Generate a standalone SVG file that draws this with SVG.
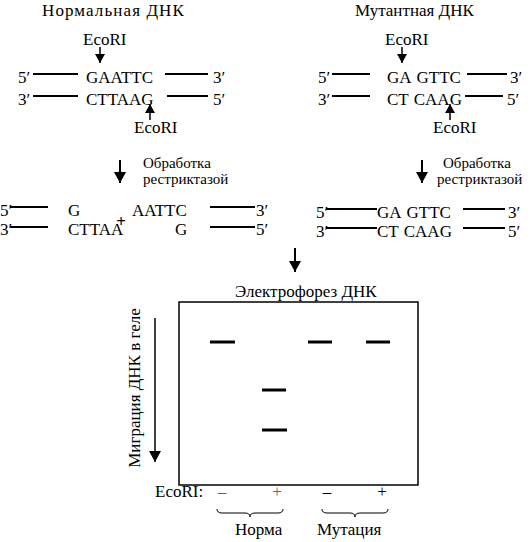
<svg xmlns="http://www.w3.org/2000/svg" width="531" height="542" viewBox="0 0 531 542" font-family="'Liberation Serif','Times New Roman',serif">
<style>
text{font-family:"Liberation Serif","Times New Roman",serif;font-size:17px;fill:#000}
.t{font-size:15px}
.s{stroke:#000;stroke-width:2;fill:none}
.a{stroke:#000;stroke-width:1.5;fill:none}
.b{stroke:#000;stroke-width:3}
.g{fill:#666}
</style>
<defs>
<marker id="ah" markerUnits="userSpaceOnUse" markerWidth="10" markerHeight="10" refX="9" refY="5" orient="auto"><path d="M0,0 L9,5 L0,10 z" fill="#000"/></marker>
<marker id="ahL" markerUnits="userSpaceOnUse" markerWidth="12" markerHeight="12" refX="11" refY="6" orient="auto"><path d="M0,0 L11,6 L0,12 z" fill="#000"/></marker>
</defs>
<rect width="531" height="542" fill="#fff"/>

<g id="normal-dna">
<text x="42" y="16" letter-spacing="1.1">Нормальная ДНК</text>
<text x="83" y="45">EcoRI</text>
<text x="18" y="83">5′</text>
<line class="s" x1="33" y1="74" x2="78" y2="74"/>
<text x="86" y="83">GAATTC</text>
<line class="s" x1="165" y1="74" x2="208" y2="74"/>
<text x="213" y="83">3′</text>
<text x="18" y="105">3′</text>
<line class="s" x1="33" y1="96" x2="78" y2="96"/>
<text x="86" y="105">CTTAAG</text>
<line class="s" x1="167" y1="96" x2="208" y2="96"/>
<text x="213" y="105">5′</text>
<text x="134" y="133">EcoRI</text>
</g>

<g id="mutant-dna">
<text x="355" y="16">Мутантная ДНК</text>
<text x="385" y="45">EcoRI</text>
<text x="318" y="83">5′</text>
<line class="s" x1="332" y1="74" x2="370" y2="74"/>
<text x="387" y="83">GA<tspan dx="5">GTTC</tspan></text>
<line class="s" x1="467" y1="74" x2="507" y2="74"/>
<text x="510" y="83">3′</text>
<text x="318" y="105">3′</text>
<line class="s" x1="332" y1="96" x2="370" y2="96"/>
<text x="387" y="105">CT<tspan dx="5">CAAG</tspan></text>
<line class="s" x1="465" y1="96" x2="503" y2="96"/>
<text x="507" y="105">5′</text>
<text x="433" y="133">EcoRI</text>
</g>

<g id="normal-cut">
<text class="t" x="143" y="168">Обработка</text>
<text class="t" x="143" y="184">рестриктазой</text>
<text x="0" y="216">5′</text>
<line class="s" x1="10" y1="207" x2="48" y2="207"/>
<text x="68" y="216">G</text>
<text x="121" y="227" text-anchor="middle" font-weight="bold" font-size="15">+</text>
<text x="132" y="216">AATTC</text>
<line class="s" x1="210" y1="207" x2="255" y2="207"/>
<text x="256" y="216">3′</text>
<text x="0" y="235">3′</text>
<line class="s" x1="10" y1="227" x2="48" y2="227"/>
<text x="68" y="235">CTTAA</text>
<text x="175" y="235">G</text>
<line class="s" x1="210" y1="227" x2="255" y2="227"/>
<text x="256" y="235">5′</text>
</g>

<g id="mutant-cut">
<text class="t" x="443" y="168">Обработка</text>
<text class="t" x="437" y="184">рестриктазой</text>
<text x="316" y="218">5′</text>
<line class="s" x1="326" y1="209" x2="377" y2="209"/>
<text x="377" y="218">GA<tspan dx="5">GTTC</tspan></text>
<line class="s" x1="463" y1="209" x2="505" y2="209"/>
<text x="508" y="218">3′</text>
<text x="316" y="237">3′</text>
<line class="s" x1="326" y1="228" x2="377" y2="228"/>
<text x="377" y="237">CT<tspan dx="5">CAAG</tspan></text>
<line class="s" x1="463" y1="228" x2="505" y2="228"/>
<text x="508" y="237">5′</text>
</g>

<g id="gel">
<text x="235" y="297">Электрофорез ДНК</text>
<rect x="179" y="302" width="239" height="183" fill="none" stroke="#000" stroke-width="1.5"/>
<line class="b" x1="210" y1="342" x2="235" y2="342"/>
<line class="b" x1="308" y1="342" x2="332" y2="342"/>
<line class="b" x1="366" y1="342" x2="390" y2="342"/>
<line class="b" x1="262" y1="390" x2="286" y2="390"/>
<line class="b" x1="262" y1="430" x2="287" y2="430"/>
<text transform="translate(140,388) rotate(-90)" text-anchor="middle">Миграция ДНК в геле</text>
</g>

<g id="lanes">
<text x="155" y="497">EcoRI:</text>
<text class="g" x="222" y="497" text-anchor="middle">–</text>
<text class="g" x="277" y="497" text-anchor="middle">+</text>
<text x="327" y="497" text-anchor="middle">–</text>
<text x="382" y="497" text-anchor="middle">+</text>
<path d="M217,509 q0,4 5,4 h23 q5,0 5,4 q0,-4 5,-4 h23 q5,0 5,-4" fill="none" stroke="#000" stroke-width="1"/>
<path d="M322,509 q0,4 5,4 h23 q5,0 5,4 q0,-4 5,-4 h23 q5,0 5,-4" fill="none" stroke="#000" stroke-width="1"/>
<text x="235" y="535">Норма</text>
<text x="317" y="535">Мутация</text>
</g>

<g id="connectors">
<line class="a" x1="100" y1="47" x2="100" y2="63" marker-end="url(#ah)"/>
<line class="a" x1="150" y1="120" x2="150" y2="104" marker-end="url(#ah)"/>
<line class="a" x1="402" y1="47" x2="402" y2="63" marker-end="url(#ah)"/>
<line class="a" x1="450" y1="120" x2="450" y2="104" marker-end="url(#ah)"/>
<line class="s" x1="120" y1="160" x2="120" y2="183" marker-end="url(#ahL)"/>
<line class="s" x1="422" y1="160" x2="422" y2="183" marker-end="url(#ahL)"/>
<line class="s" x1="295" y1="248" x2="295" y2="272" marker-end="url(#ahL)"/>
<line class="a" x1="155" y1="318" x2="155" y2="462" marker-end="url(#ahL)"/>
</g>
</svg>
